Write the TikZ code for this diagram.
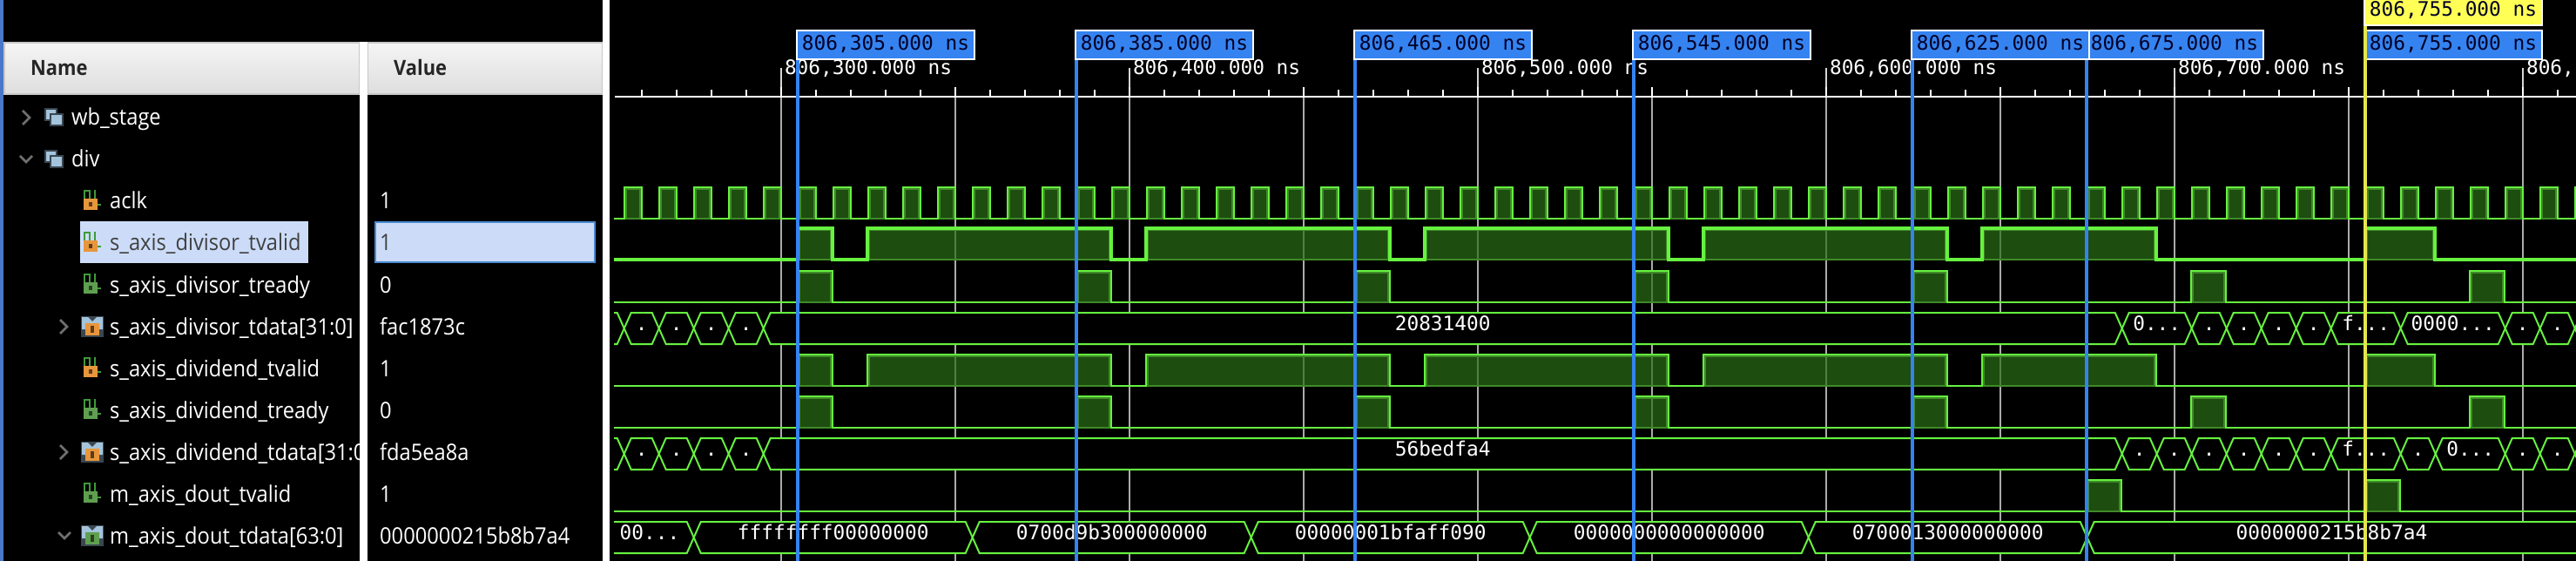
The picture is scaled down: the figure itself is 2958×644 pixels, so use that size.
\documentclass[tikz,border=0pt]{standalone}
\usepackage{fontspec}
\setmainfont[FakeStretch=0.91]{Open Sans}
\newfontfamily\wavefont{DejaVu Sans Mono}
\definecolor{sigbright}{HTML}{66F23F}
\definecolor{sigrim}{HTML}{3F8A28}
\definecolor{sigdark}{HTML}{2C6E17}
\definecolor{gridgray}{HTML}{ABABAB}
\definecolor{cursorblue}{HTML}{3583F0}
\definecolor{cursoryellow}{HTML}{FFFF55}
\definecolor{selectblue}{HTML}{CCDCF8}
\definecolor{selectedge}{HTML}{4A8AD0}
\definecolor{stripblue}{HTML}{4A78C8}
\definecolor{headgray}{HTML}{C8C8C8}
\definecolor{chevgray}{HTML}{707070}
\definecolor{iconblue}{HTML}{A4C4DC}
\definecolor{iconedge}{HTML}{3A4650}
\definecolor{iconorange}{HTML}{E8963C}
\definecolor{icongreen}{HTML}{5FA050}
\definecolor{wiregreen}{HTML}{3F9A3A}
\newcommand{\cutdots}{...}
\tikzset{
  sigline/.style={draw=sigbright,line width=2pt,line cap=rect},
  sigthick/.style={draw=sigbright,line width=4pt,line cap=rect},
  sigfill/.style={fill=sigdark,fill opacity=.7,draw=sigrim,line width=2pt},
  buspath/.style={fill=black,draw=sigbright,line width=2pt},
  gridline/.style={draw=gridgray,line width=2pt},
  tickline/.style={draw=white,line width=2pt},
  chevron/.style={draw=chevgray,line width=2.5pt},
  wavetext/.style={font=\wavefont\fontsize{22.8}{24}\selectfont,inner sep=0pt,outer sep=0pt},
  bustext/.style={wavetext,text=white,anchor=base},
  rulertext/.style={wavetext,text=white,anchor=base west},
  cursorbox/.style={wavetext,text=black!85!blue,fill=cursorblue,draw=white,line width=2pt,
    minimum width=204pt,minimum height=33.5pt,text height=12pt,text depth=0pt},
  rowtext/.style={font=\fontsize{26}{28}\selectfont,text=white,anchor=base west,inner sep=0pt},
  headtext/.style={font=\bfseries\fontsize{24}{28}\selectfont,text=black!85,anchor=base west,inner sep=0pt},
  headbox/.style={top color=white!96!black,bottom color=white!87!black,draw=headgray,line width=2pt},
}
\newcommand{\sigrow}[3][sigline]{%
  \foreach \rise/\fall [remember=\fall as \prevfall (initially 706)] in {#3,3000/3000} {
    \filldraw[sigfill] (\rise+2,#2-34) rectangle (\fall-2,#2);
    \draw[#1] (\prevfall,#2) -- (\rise,#2) -- (\rise,#2-36) -- (\fall,#2-36) -- (\fall,#2);
  }}
\newcommand{\busrow}[2]{%
  \foreach \cross [remember=\cross as \prevcross (initially #2)] in {#1} {
    \filldraw[buspath] (\prevcross,\bustop+18) -- (\prevcross+8,\bustop) -- (\cross-8,\bustop)
      -- (\cross,\bustop+18) -- (\cross-8,\bustop+36) -- (\prevcross+8,\bustop+36) -- cycle;
  }}
\newcommand{\wireicon}[3]{%
  \begin{scope}[shift={(#1,#2)}]
    \draw[wiregreen,line width=1.5pt] (1,12) -- (1,1) -- (7,1) -- (7,12);
    \draw[wiregreen,line width=1.5pt] (13,0) -- (13,17) -- (20,17);
    \fill[#3] (0,10) rectangle (16,23);
    \fill[black!60!#3] (6,14) rectangle (10,19);
  \end{scope}}
\newcommand{\busicon}[3]{%
  \begin{scope}[shift={(#1,#2)}]
    \fill[iconedge] (-1,-1) rectangle (25,23);
    \fill[iconblue] (0,0) -- (7,0) -- (12,5) -- (17,0) -- (24,0) -- (24,14) -- (0,14) -- cycle;
    \fill[#3] (4,7) rectangle (20,21);
    \fill[black!60!#3] (10,10) rectangle (14,18);
  \end{scope}}
\newcommand{\groupicon}[2]{%
  \begin{scope}[shift={(#1,#2)}]
    \filldraw[fill=iconblue,draw=iconedge,line width=2pt] (0,0) rectangle (13,13);
    \filldraw[fill=iconblue,draw=iconedge,line width=2pt] (6,6) rectangle (20,19);
  \end{scope}}
\begin{document}
\begin{tikzpicture}[x=1pt,y=-1pt]
  \useasboundingbox (0,0) rectangle (2958,644);
  \fill[black] (0,0) rectangle (2958,644);
  \fill[stripblue] (0,0) rectangle (3.5,644);
  \path[headbox] (5,49) rectangle (413,108.5);
  \path[headbox] (422,49) rectangle (692,108.5);
  \node[headtext] (namehead) at (35,87) {Name};
  \node[headtext] (valuehead) at (452,87) {Value};
  \fill[selectblue] (92,254) rectangle (354,302);
  \filldraw[fill=selectblue,draw=selectedge,line width=2pt] (431,255) rectangle (683,301);
  \draw[chevron] (26,127) -- (34,135) -- (26,143);
  \draw[chevron] (23,179) -- (30,186) -- (37,179);
  \draw[chevron] (69,367) -- (77,375) -- (69,383);
  \draw[chevron] (69,511) -- (77,519) -- (69,527);
  \draw[chevron] (67,611) -- (74,618) -- (81,611);
  \groupicon{52}{125}
  \groupicon{52}{173}
  \wireicon{96}{218}{iconorange}
  \wireicon{96}{266}{iconorange}
  \wireicon{96}{314}{icongreen}
  \busicon{94}{364}{iconorange}
  \wireicon{96}{410}{iconorange}
  \wireicon{96}{458}{icongreen}
  \busicon{94}{508}{iconorange}
  \wireicon{96}{554}{icongreen}
  \busicon{94}{604}{icongreen}
  \node[rowtext] (wbstage) at (82,144) {wb\_stage};
  \node[rowtext] (divgroup) at (82,192) {div};
  \node[rowtext] (aclk) at (126,240) {aclk};
  \node[rowtext,text=black!75] (divisorvalid) at (126,288) {s\_axis\_divisor\_tvalid};
  \node[rowtext] (divisorready) at (126,336) {s\_axis\_divisor\_tready};
  \node[rowtext] (divisordata) at (126,384) {s\_axis\_divisor\_tdata[31:0]};
  \node[rowtext] (dividendvalid) at (126,432) {s\_axis\_dividend\_tvalid};
  \node[rowtext] (dividendready) at (126,480) {s\_axis\_dividend\_tready};
  \node[rowtext] (dividenddata) at (126,528) {s\_axis\_dividend\_tdata[31:0};
  \node[rowtext] (doutvalid) at (126,576) {m\_axis\_dout\_tvalid};
  \node[rowtext] (doutdata) at (126,624) {m\_axis\_dout\_tdata[63:0]};
  \node[rowtext] (aclkval) at (436,240) {1};
  \node[rowtext,text=black!75] (divisorvalidval) at (436,288) {1};
  \node[rowtext] (divisorreadyval) at (436,336) {0};
  \node[rowtext] (divisordataval) at (436,384) {fac1873c};
  \node[rowtext] (dividendvalidval) at (436,432) {1};
  \node[rowtext] (dividendreadyval) at (436,480) {0};
  \node[rowtext] (dividenddataval) at (436,528) {fda5ea8a};
  \node[rowtext] (doutvalidval) at (436,576) {1};
  \node[rowtext] (doutdataval) at (436,624) {0000000215b8b7a4};
  \fill[white] (413,48) rectangle (422,644);
  \fill[white] (692,0) rectangle (700,644);
  \draw[tickline] (706,111) -- (2958,111);
  \foreach \k in {0,...,55} {
    \draw[tickline] (736.6+40*\k,103) -- (736.6+40*\k,110);
  }
  \foreach \k in {0,...,10} {
    \draw[gridline] (896.6+200*\k,112) -- (896.6+200*\k,644);
    \draw[tickline] (896.6+200*\k,100) -- (896.6+200*\k,110);
  }
  \foreach \k in {0,...,5} {
    \draw[tickline,draw=gridgray!50!white] (896.6+400*\k,78) -- (896.6+400*\k,100);
  }
  \foreach \k/\stamp in {0/300,1/400,2/500,3/600,4/700} {
    \node[rulertext] (ruler\stamp) at (901+400*\k,86) {806,\stamp.000 ns};
  }
  \node[rulertext] (ruler800) at (2901,86) {806,};
  \begin{scope}
    \clip (705,0) rectangle (2958,644);
    \draw[sigline] (706,251) -- (716.6,251);
    \foreach \k in {0,...,56} {
      \pgfmathsetmacro\rise{716.6+40*\k}
      \pgfmathsetmacro\fall{\rise+20.4}
      \pgfmathsetmacro\nextrise{\rise+40}
      \filldraw[sigfill] (\rise+2,217) rectangle (\fall-2,251);
      \draw[sigline] (\rise,251) -- (\rise,215) -- (\fall,215) -- (\fall,251) -- (\nextrise,251);
    }
    \sigrow[sigthick]{298}{916/956,996/1276,1316/1596,1636/1916,1956/2236,2276/2476,2716/2796}
    \sigrow{347}{916/956,1236/1276,1556/1596,1876/1916,2196/2236,2516/2556,2836/2876}
    \sigrow{443}{916/956,996/1276,1316/1596,1636/1916,1956/2236,2276/2476,2716/2796}
    \sigrow{491}{916/956,1236/1276,1556/1596,1876/1916,2196/2236,2516/2556,2836/2876}
    \sigrow{587}{2396/2436,2716/2756}
    \def\bustop{359}
    \busrow{716.7,756.7,796.7,836.7,876.7,2436.7,2516.7,2556.7,2596.7,2636.7,2676.7,2756.7,2876.7,2916.7,2956.7,3040}{676.7}
    \def\bustop{503}
    \busrow{716.7,756.7,796.7,836.7,876.7,2436.7,2476.7,2516.7,2556.7,2596.7,2636.7,2676.7,2756.7,2796.7,2876.7,2916.7,2956.7,3040}{676.7}
    \def\bustop{599}
    \busrow{796.7,1116.7,1436.7,1756.7,2076.7,2396.7,3040}{660}
    \foreach \midx/\lab [count=\i] in {736.7/.,776.7/.,816.7/.,856.7/.,1656.7/20831400,2476.7/0\cutdots,2536.7/.,2576.7/.,2616.7/.,2656.7/.,2716.7/f\cutdots,2816.7/0000\cutdots,2896.7/.,2936.7/.} {
      \node[bustext] (divisorlab\i) at (\midx,379.5) {\lab};
    }
    \foreach \midx/\lab [count=\i] in {736.7/.,776.7/.,816.7/.,856.7/.,1656.7/56bedfa4,2456.7/.,2496.7/.,2536.7/.,2576.7/.,2616.7/.,2656.7/.,2716.7/f\cutdots,2776.7/.,2836.7/0\cutdots,2896.7/.,2936.7/.} {
      \node[bustext] (dividendlab\i) at (\midx,523.5) {\lab};
    }
    \foreach \midx/\lab [count=\i] in {746/00\cutdots,956.7/ffffffff00000000,1276.7/0700d9b300000000,1596.7/00000001bfaff090,1916.7/0000000000000000,2236.7/0700013000000000,2677.5/0000000215b8b7a4} {
      \node[bustext] (doutlab\i) at (\midx,619.5) {\lab};
    }
  \end{scope}
  \foreach \x/\stamp in {916/305,1236/385,1556/465,1876/545,2396/675,2196/625} {
    \draw[cursorblue,line width=4pt] (\x,69) -- (\x,644);
    \node[cursorbox] (cursor\stamp) at (\x+101,51.5) {806,\stamp.000 ns};
  }
  \node[cursorbox] (cursor755) at (2817,51.5) {806,755.000 ns};
  \draw[cursoryellow!90!black,line width=4pt] (2716,29) -- (2716,644);
  \node[cursorbox,fill=cursoryellow,minimum height=32pt] (marker755) at (2817,13) {806,755.000 ns};
\end{tikzpicture}
\end{document}
